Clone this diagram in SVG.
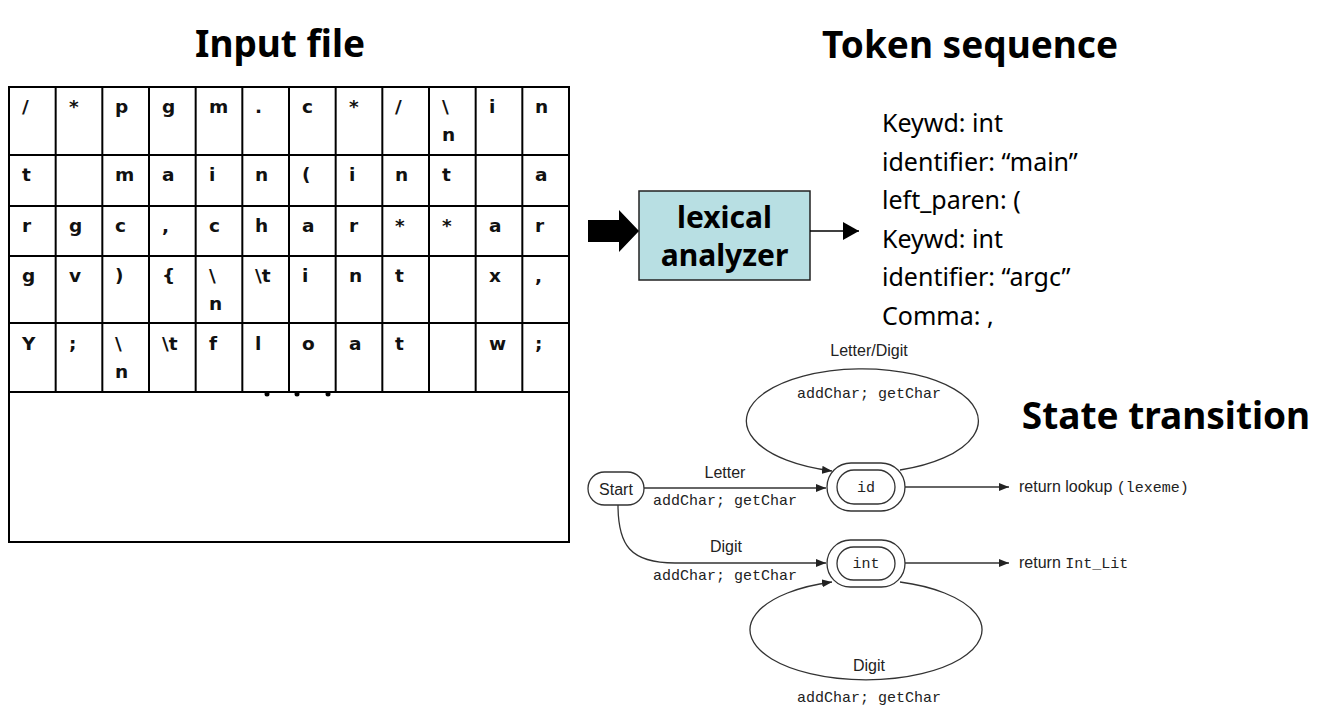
<svg xmlns="http://www.w3.org/2000/svg" width="1329" height="705" viewBox="0 0 1329 705">
<defs>
<style>
.title{font-family:"Noto Sans","Liberation Sans",sans-serif;font-weight:bold;font-size:37px;fill:#000}
.cell{font-family:"DejaVu Sans","Liberation Sans",sans-serif;font-weight:bold;font-size:18.5px;fill:#111}
.grid{stroke:#000;stroke-width:2;fill:none}
.tok{font-family:"Noto Sans","Liberation Sans",sans-serif;font-size:25px;fill:#000}
.lex{font-family:"Noto Sans","Liberation Sans",sans-serif;font-weight:bold;font-size:30px;fill:#000;text-anchor:middle}
.lbl{font-family:"Liberation Sans",Arial,sans-serif;font-size:16px;fill:#222}
.mono{font-family:"Liberation Mono","Courier New",monospace;font-size:15px;fill:#222}
.st{fill:#fff;stroke:#333;stroke-width:1.3}
.edge{fill:none;stroke:#333;stroke-width:1.3}
</style>
<marker id="ah" viewBox="0 0 10 8" refX="10" refY="4" markerWidth="10" markerHeight="8" markerUnits="userSpaceOnUse" orient="auto">
<path d="M0,0 L10,4 L0,8 z" fill="#222"/>
</marker>
<marker id="ahb" viewBox="0 0 16 18" refX="16" refY="9" markerWidth="16" markerHeight="18" markerUnits="userSpaceOnUse" orient="auto">
<path d="M0,0 L16,9 L0,18 z" fill="#000"/>
</marker>
</defs>
<rect width="1329" height="705" fill="#fff"/>

<text class="title" x="280" y="57" text-anchor="middle">Input file</text>
<text class="title" x="970" y="58" text-anchor="middle">Token sequence</text>
<text class="title" x="1166" y="429" text-anchor="middle">State transition</text>

<g id="input-file">
<rect class="grid" x="9" y="87" width="560" height="455"/>
<path class="grid" d="M9,155 H569 M9,206 H569 M9,256 H569 M9,323 H569 M9,392 H569
M55.67,87 V392 M102.33,87 V392 M149,87 V392 M195.67,87 V392 M242.33,87 V392 M289,87 V392
M335.67,87 V392 M382.33,87 V392 M429,87 V392 M475.67,87 V392 M522.33,87 V392"/>
<g class="cell">
<text x="22" y="113">/</text><text x="69" y="113">*</text><text x="115" y="113">p</text><text x="162" y="113">g</text><text x="209" y="113">m</text><text x="255" y="113">.</text><text x="302" y="113">c</text><text x="349" y="113">*</text><text x="395" y="113">/</text><text x="442" y="113">\</text><text x="442" y="141">n</text><text x="489" y="113">i</text><text x="535" y="113">n</text>
<text x="22" y="181">t</text><text x="115" y="181">m</text><text x="162" y="181">a</text><text x="209" y="181">i</text><text x="255" y="181">n</text><text x="302" y="181">(</text><text x="349" y="181">i</text><text x="395" y="181">n</text><text x="442" y="181">t</text><text x="535" y="181">a</text>
<text x="22" y="232">r</text><text x="69" y="232">g</text><text x="115" y="232">c</text><text x="162" y="232">,</text><text x="209" y="232">c</text><text x="255" y="232">h</text><text x="302" y="232">a</text><text x="349" y="232">r</text><text x="395" y="232">*</text><text x="442" y="232">*</text><text x="489" y="232">a</text><text x="535" y="232">r</text>
<text x="22" y="282">g</text><text x="69" y="282">v</text><text x="115" y="282">)</text><text x="162" y="282">{</text><text x="209" y="282">\</text><text x="209" y="310">n</text><text x="255" y="282">\t</text><text x="302" y="282">i</text><text x="349" y="282">n</text><text x="395" y="282">t</text><text x="489" y="282">x</text><text x="535" y="282">,</text>
<text x="22" y="350">Y</text><text x="69" y="350">;</text><text x="115" y="350">\</text><text x="115" y="378">n</text><text x="162" y="350">\t</text><text x="209" y="350">f</text><text x="255" y="350">l</text><text x="302" y="350">o</text><text x="349" y="350">a</text><text x="395" y="350">t</text><text x="489" y="350">w</text><text x="535" y="350">;</text>
</g>
<circle cx="267" cy="394" r="2.5" fill="#000"/><circle cx="297" cy="394" r="2.5" fill="#000"/><circle cx="328" cy="394" r="2.5" fill="#000"/>
</g>

<g id="lexical-analyzer">
<rect x="639" y="191" width="171" height="89" fill="#b8dfe3" stroke="#222" stroke-width="1.5"/>
<text class="lex" x="724.5" y="228">lexical</text>
<text class="lex" x="724.5" y="266">analyzer</text>
</g>

<g id="token-sequence" class="tok">
<text x="882" y="132">Keywd: int</text>
<text x="882" y="170.5">identifier: “main”</text>
<text x="882" y="209">left_paren: (</text>
<text x="882" y="247.5">Keywd: int</text>
<text x="882" y="286">identifier: “argc”</text>
<text x="882" y="324.5">Comma: ,</text>
</g>

<g id="state-start">
<rect class="st" x="588" y="472" width="56" height="33" rx="16.5"/>
<text class="lbl" x="616" y="495" text-anchor="middle">Start</text>
</g>
<g id="state-id">
<rect class="st" x="827" y="463" width="78" height="48" rx="24"/>
<rect class="st" x="837" y="470" width="58" height="34" rx="17"/>
<text class="mono" x="866" y="492" text-anchor="middle">id</text>
</g>
<g id="state-int">
<rect class="st" x="827" y="540" width="78" height="47" rx="23.5"/>
<rect class="st" x="837" y="547" width="58" height="33" rx="16.5"/>
<text class="mono" x="866" y="568" text-anchor="middle">int</text>
</g>

<g id="connectors">
<path d="M588,220 H619 V210 L639,231 L619,252 V242 H588 z" fill="#000"/>
<line x1="810" y1="231" x2="859" y2="231" stroke="#000" stroke-width="1.5" marker-end="url(#ahb)"/>
<line class="edge" x1="644" y1="488" x2="826" y2="488" marker-end="url(#ah)"/>
<path class="edge" d="M618,505 C618,545 630,563 675,563 L826,563" marker-end="url(#ah)"/>
<path class="edge" d="M900,470 A116 52 0 1 0 832,471" marker-end="url(#ah)"/>
<path class="edge" d="M900,582 A116 50 0 1 1 832,582" marker-end="url(#ah)"/>
<line class="edge" x1="905" y1="487" x2="1009" y2="487" marker-end="url(#ah)"/>
<line class="edge" x1="905" y1="563" x2="1009" y2="563" marker-end="url(#ah)"/>
</g>

<g id="edge-labels">
<text class="lbl" x="725" y="478" text-anchor="middle">Letter</text>
<text class="mono" x="725" y="505" text-anchor="middle">addChar; getChar</text>
<text class="lbl" x="726" y="552" text-anchor="middle">Digit</text>
<text class="mono" x="725" y="580" text-anchor="middle">addChar; getChar</text>
<text class="lbl" x="869" y="356" text-anchor="middle">Letter/Digit</text>
<text class="mono" x="869" y="398" text-anchor="middle">addChar; getChar</text>
<text class="lbl" x="869" y="671" text-anchor="middle">Digit</text>
<text class="mono" x="869" y="702" text-anchor="middle">addChar; getChar</text>
<text class="lbl" x="1019" y="492">return lookup <tspan class="mono">(lexeme)</tspan></text>
<text class="lbl" x="1019" y="568">return <tspan class="mono">Int_Lit</tspan></text>
</g>
</svg>
